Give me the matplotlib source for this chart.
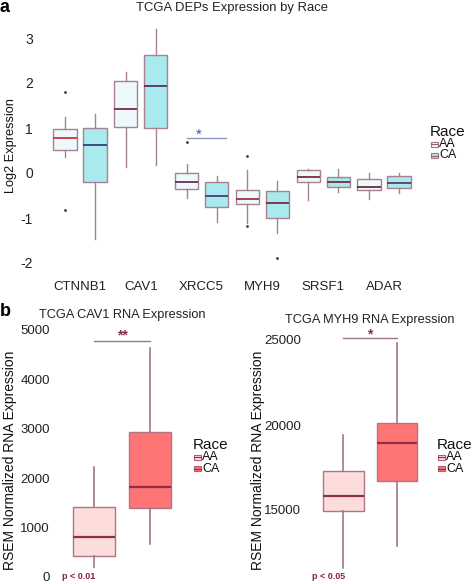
import matplotlib
matplotlib.use('Agg')
import matplotlib.pyplot as plt
from matplotlib.patches import Rectangle
from matplotlib.lines import Line2D

plt.rcParams['font.family'] = ['Liberation Sans', 'DejaVu Sans']

W, H = 472, 584

# panel a: TCGA DEPs by race (log2 expression)
genes = ['CTNNB1', 'CAV1', 'XRCC5', 'MYH9', 'SRSF1', 'ADAR']
aa_whishi = [1.25, 2.25, 0.19, 0.07, 0.10, 0.01]
aa_q3 = [0.97, 2.05, 0.01, -0.38, 0.06, -0.14]
aa_med = [0.77, 1.42, -0.19, -0.58, -0.08, -0.30]
aa_q1 = [0.51, 1.03, -0.36, -0.69, -0.20, -0.38]
aa_whislo = [0.35, 0.14, -0.56, -1.10, -0.60, -0.58]
aa_fliers = [[1.8, -0.82], [], [0.68], [0.38, -1.18], [], []]

ca_whishi = [1.30, 3.21, -0.06, -0.18, 0.10, -0.01]
ca_q3 = [0.99, 2.62, -0.21, -0.39, -0.08, -0.06]
ca_med = [0.62, 1.93, -0.51, -0.66, -0.19, -0.23]
ca_q1 = [-0.21, 1.01, -0.75, -0.99, -0.30, -0.33]
ca_whislo = [-1.47, 0.18, -1.08, -1.34, -0.43, -0.44]
ca_fliers = [[], [], [], [-1.88], [], []]

xrcc5_sig_y = 0.78

# panel b: RSEM normalized RNA expression
cav1_aa = [203, 426, 799, 1420, 2231]      # whislo, q1, med, q3, whishi
cav1_ca = [663, 1400, 1813, 2929, 4632]
cav1_sig_y = 4767
cav1_p = 'p < 0.01'

myh9_aa = [11606, 14959, 15841, 17294, 19412]
myh9_ca = [12882, 16724, 18959, 20100, 24806]
myh9_sig_y = 25098
myh9_p = 'p < 0.05'

races = ['AA', 'CA']


def fx(x):
    return x / W


def fy(y):
    return 1 - y / H


def add_ax(fig, l, t, r, b):
    return fig.add_axes([fx(l), fy(b), (r - l) / W, (b - t) / H])


def clean(ax, pad):
    for s in ax.spines.values():
        s.set_visible(False)
    ax.tick_params(length=0, pad=pad, colors='#222222')
    ax.set_facecolor('none')


def stat(v, fl=()):
    return dict(whislo=v[0], q1=v[1], med=v[2], q3=v[3], whishi=v[4], fliers=list(fl))


def legend(fig, x, y, fills, edge, med):
    fig.text(fx(x - 1), fy(y), 'Race', fontsize=11, va='center', ha='left', color='#111111')
    for i, (lab, fc) in enumerate(zip(races, fills)):
        yy = y + 12 + i * 11.5
        fig.patches.append(Rectangle((fx(x), fy(yy + 2.5)), 7 / W, 5 / H, transform=fig.transFigure,
                                     facecolor=fc, edgecolor=edge, lw=0.8))
        fig.lines.append(Line2D([fx(x), fx(x + 7)], [fy(yy), fy(yy)], transform=fig.transFigure,
                                color=med, lw=0.8))
        fig.text(fx(x + 8), fy(yy), lab, fontsize=9, va='center', ha='left', color='#111111')


fig = plt.figure(figsize=(W / 100, H / 100), dpi=100)

# ---------- panel a ----------
ax = add_ax(fig, 49.6, 20, 414.4, 276.5)
edge_a = '#A88090'
fill_a = ['#EEF9FB', '#A8EAEE']
med_aa = ['#D3303C', '#7A2C50', '#6A2C58', '#A03040', '#7A2C40', '#6A2C40']
med_ca = ['#3E3A78', '#5A2E60', '#4A3A78', '#7A2C40', '#7A2C40', '#5A3A6E']
off, bw = 0.246, 0.38
for i in range(len(genes)):
    pos = i + 1
    groups = [
        (pos - off, stat([aa_whislo[i], aa_q1[i], aa_med[i], aa_q3[i], aa_whishi[i]], aa_fliers[i]), fill_a[0], med_aa[i]),
        (pos + off, stat([ca_whislo[i], ca_q1[i], ca_med[i], ca_q3[i], ca_whishi[i]], ca_fliers[i]), fill_a[1], med_ca[i]),
    ]
    for p, st, fc, mc in groups:
        ax.bxp([st], positions=[p], widths=bw, patch_artist=True, showcaps=False,
               boxprops=dict(facecolor=fc, edgecolor=edge_a, lw=1.0),
               whiskerprops=dict(color=edge_a, lw=1.0),
               medianprops=dict(color=mc, lw=1.3),
               flierprops=dict(marker='o', markersize=2, markerfacecolor='#5A2A3A',
                               markeredgecolor='none'))
ax.plot([3 - off, 3 + off + 0.15], [xrcc5_sig_y, xrcc5_sig_y], color='#8C98C8', lw=1.0)
ax.text(3 - 0.04, xrcc5_sig_y + 0.06, '*', color='#3A50C8', fontsize=11, ha='center', va='center')
ax.set_xlim(0.5, 6.5)
ax.set_ylim(-2.3, 3.4)
ax.set_xticks(range(1, len(genes) + 1))
ax.set_xticklabels(genes, fontsize=9.5)
ax.set_yticks([-2, -1, 0, 1, 2, 3])
ax.set_yticklabels(['-2', '-1', '0', '1', '2', '3'], fontsize=10)
clean(ax, 12)
ax.tick_params(axis='x', pad=3)

fig.text(fx(232), fy(8.5), 'TCGA DEPs Expression by Race', fontsize=9.4, ha='center', va='center', color='#222222')
fig.text(fx(11.5), fy(146), 'Log2 Expression', fontsize=9.2, rotation=90, ha='center', va='center', color='#111111')
fig.text(fx(0), fy(8), 'a', fontsize=13, fontweight='bold', ha='left', va='center')
legend(fig, 431, 132, fill_a, '#A07A8C', '#9A5A70')

# ---------- panel b ----------
edge_b = '#B07484'
fill_b = ['#FDDCDC', '#FF7474']
med_b = '#8E2F48'
sig_c = '#8A2E48'
p_c = '#8A2040'


def rna_panel(l, t, r, b, aa, ca, ylim, yticks, sig_y, ptxt, title, tcx, lx, legx):
    ax = add_ax(fig, l, t, r, b)
    for pos, v, fc in [(1, aa, fill_b[0]), (2, ca, fill_b[1])]:
        ax.bxp([stat(v)], positions=[pos], widths=0.76, patch_artist=True, showcaps=False,
               showfliers=False,
               boxprops=dict(facecolor=fc, edgecolor=edge_b, lw=1.0),
               whiskerprops=dict(color='#A07885', lw=1.2),
               medianprops=dict(color=med_b, lw=1.6))
    ax.plot([1, 2], [sig_y, sig_y], color='#A07885', lw=1.0)
    ax.set_xlim(0.4, 2.6)
    ax.set_ylim(*ylim)
    ax.set_xticks([])
    ax.set_yticks(yticks)
    ax.set_yticklabels([str(v) for v in yticks], fontsize=9.5)
    clean(ax, 7.5)
    fig.text(fx(tcx), fy(t - 11), title, fontsize=9.2, ha='center', va='center', color='#222222')
    fig.text(fx(lx), fy(460), 'RSEM Normalized RNA Expression', fontsize=10, rotation=90,
             ha='center', va='center', color='#111111')
    legend(fig, legx, 445, fill_b, '#B06070', '#8E2F48')
    return ax


axl = rna_panel(60.4, 326, 183.6, 578.2, cav1_aa, cav1_ca, (-30, 5080), [0, 1000, 2000, 3000, 4000, 5000],
                cav1_sig_y, cav1_p, 'TCGA CAV1 RNA Expression', 122, 10, 194)
axl.text(1.5, cav1_sig_y + 130, '**', color=sig_c, fontsize=10, fontweight='bold', ha='center', va='center')
axl.text(0.73, 0, cav1_p, color=p_c, fontsize=6.5, fontweight='bold', ha='center', va='center')

axr = rna_panel(311.4, 331.5, 429, 578, myh9_aa, myh9_ca, (11000, 25500), [15000, 20000, 25000],
                myh9_sig_y, myh9_p, 'TCGA MYH9 RNA Expression', 370, 258, 438)
axr.text(1.5, myh9_sig_y + 200, '*', color=sig_c, fontsize=10, fontweight='bold', ha='center', va='center')
axr.text(0.73, 11070, myh9_p, color=p_c, fontsize=6.5, fontweight='bold', ha='center', va='center')

fig.text(fx(0), fy(312), 'b', fontsize=13, fontweight='bold', ha='left', va='center')

fig.savefig('out.png', dpi=100)
